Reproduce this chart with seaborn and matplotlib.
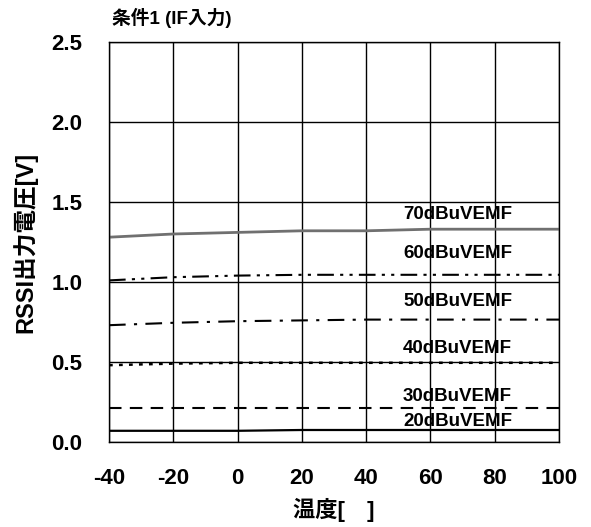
import matplotlib
matplotlib.use("Agg")
import matplotlib.pyplot as plt
import seaborn as sns
import pandas as pd

sns.set_theme(style="white")
plt.rcParams['font.family'] = ['Liberation Sans', 'Noto Sans CJK JP', 'DejaVu Sans']
plt.rcParams['font.weight'] = 'bold'
plt.rcParams['text.color'] = 'black'
plt.rcParams['axes.labelcolor'] = 'black'
plt.rcParams['xtick.color'] = 'black'
plt.rcParams['ytick.color'] = 'black'

temps = [-40, -20, 0, 20, 40, 60, 80, 100]
v70 = [1.28, 1.30, 1.31, 1.32, 1.32, 1.33, 1.33, 1.33]
v60 = [1.01, 1.03, 1.04, 1.045, 1.045, 1.045, 1.045, 1.045]
v50 = [0.73, 0.745, 0.755, 0.76, 0.765, 0.765, 0.765, 0.765]
v40 = [0.48, 0.49, 0.495, 0.495, 0.495, 0.495, 0.495, 0.495]
v30 = [0.21, 0.21, 0.21, 0.21, 0.21, 0.21, 0.21, 0.21]
v20 = [0.07, 0.07, 0.07, 0.075, 0.075, 0.075, 0.075, 0.075]
labels = ["70dBuVEMF", "60dBuVEMF", "50dBuVEMF", "40dBuVEMF", "30dBuVEMF", "20dBuVEMF"]
label_y = [1.42, 1.18, 0.88, 0.585, 0.285, 0.125]

xticks = [-40, -20, 0, 20, 40, 60, 80, 100]
yticks = [0.0, 0.5, 1.0, 1.5, 2.0, 2.5]

fig = plt.figure(figsize=(5.91, 5.27), dpi=100)
ax = fig.add_axes([0.1844, 0.1613, 0.7615, 0.759])

series = [v70, v60, v50, v40, v30, v20]
styles = [
    dict(color='#707070', linestyle='-', linewidth=2.0),
    dict(color='black', linestyle=(0, (8, 3, 1.5, 3, 1.5, 3)), linewidth=1.5),
    dict(color='black', linestyle=(0, (8, 4, 1.5, 4)), linewidth=1.5),
    dict(color='black', linestyle=(0, (1.5, 2.5)), linewidth=1.8),
    dict(color='black', linestyle=(0, (6, 4)), linewidth=1.5),
    dict(color='black', linestyle='-', linewidth=1.6),
]
for vals, st in zip(series, styles):
    df = pd.DataFrame({'t': temps, 'v': vals})
    sns.lineplot(data=df, x='t', y='v', ax=ax, **st)

for lab, ly in zip(labels, label_y):
    ax.text(51.5, ly, lab, fontsize=13.5, fontweight='bold', va='center', ha='left', color='black')

ax.set_xlim(-40, 100)
ax.set_ylim(0, 2.5)
ax.set_xticks(xticks)
ax.set_yticks(yticks)
ax.set_xticklabels([str(t) for t in xticks])
ax.set_yticklabels([f"{t:.1f}" for t in yticks])
ax.grid(True, color='black', linewidth=1.0)
for s in ax.spines.values():
    s.set_color('black')
    s.set_linewidth(1.0)
ax.tick_params(axis='y', labelsize=16, length=0, pad=19, labelcolor='black')
ax.tick_params(axis='x', labelsize=16, length=0, pad=19, labelcolor='black')
for lbl in ax.get_xticklabels() + ax.get_yticklabels():
    lbl.set_fontweight('bold')
ax.set_xlabel("温度[　]", fontsize=16, fontweight='bold', labelpad=6, color='black')
ax.set_ylabel("RSSI出力電圧[V]", fontsize=17, fontweight='bold', labelpad=10, color='black')
fig.text(112 / 591, 1 - 18 / 527, "条件1 (IF入力)", fontsize=13.5, fontweight='bold',
         va='center', ha='left', color='black')

fig.savefig("out.png", dpi=100)
